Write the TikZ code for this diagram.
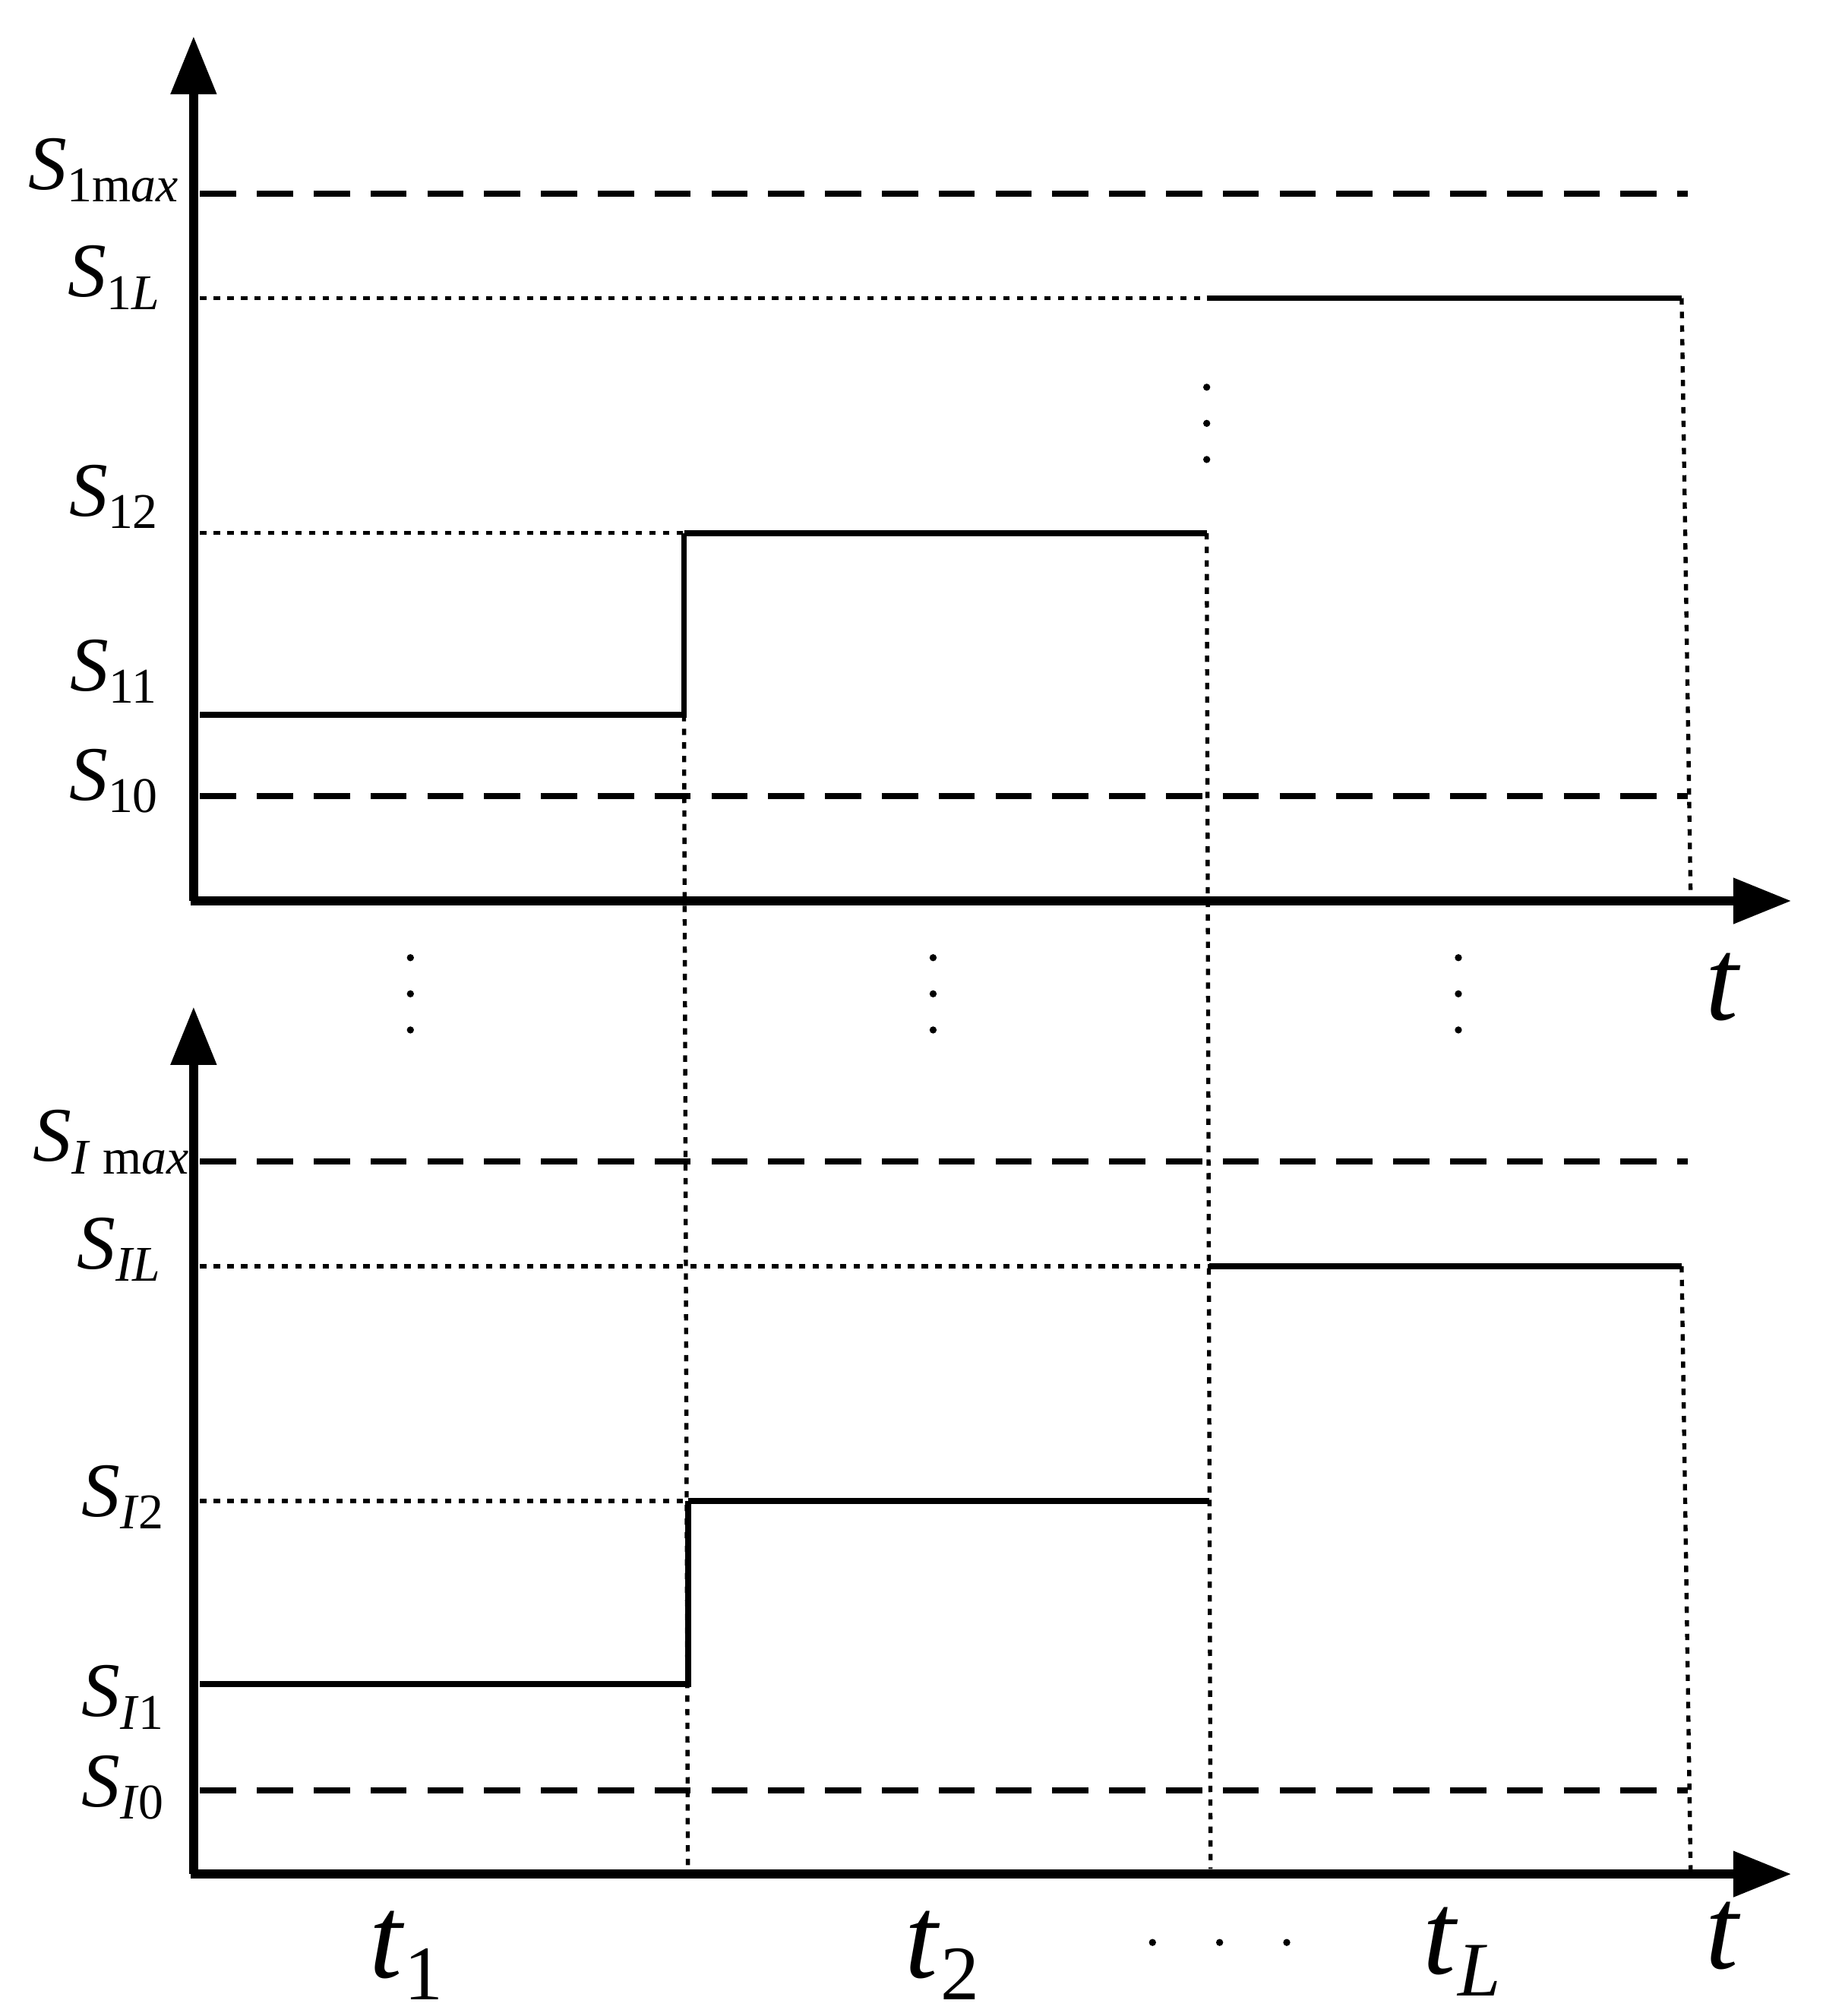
\documentclass[tikz,border=0pt]{standalone}
\usepackage{fontspec}
\setmainfont{Liberation Serif}
\usetikzlibrary{arrows.meta}
\newcommand{\mysb}[1]{\raisebox{-0.35ex}{\fontsize{11}{12}\selectfont #1}}
\newcommand{\mytsb}[1]{\raisebox{-0.4ex}{\fontsize{17}{18}\selectfont #1}}
\begin{document}
\begin{tikzpicture}[x=0.01cm,y=-0.01cm,
 ax/.style={line width=2pt,-{Triangle[length=0.45cm,width=0.34cm]}},
 dsh/.style={line width=1.3pt,dash pattern=on 0.28cm off 0.16cm},
 dot/.style={line width=0.9pt,dash pattern=on 1.4pt off 1.6pt},
 sol/.style={line width=1.3pt},
 lab/.style={font=\fontsize{17}{20}\selectfont,anchor=center,inner sep=0pt},
 tl/.style={font=\fontsize{26}{30}\selectfont,inner sep=0pt},
 vd/.style={fill=black,circle,inner sep=0pt,minimum size=0.055cm}]
\useasboundingbox (0,0) rectangle (1412,1562);
% top panel
\draw[ax] (150,698) -- (150,28);
\draw[ax] (148,698) -- (1388,698);
\draw[dsh] (155,150) -- (1308,150);
\draw[dot] (155,231) -- (935,231);
\draw[sol] (935,231) -- (1303,231);
\draw[dot] (1303,231) -- (1310,698);
\foreach \y in {300,328,356} \node[vd] at (935,\y) {};
\draw[dot] (155,413) -- (530,413);
\draw[sol] (530,413) -- (935,413);
\draw[sol] (155,554) -- (530,554) -- (530,413);
\draw[dot] (530,554) -- (533,1448);
\draw[dot] (935,413) -- (938,1448);
\draw[dsh] (155,617) -- (1308,617);
\node[lab] at (80,132) {\textit{S}\mysb{1m\textit{ax}}};
\node[lab] at (88,215) {\textit{S}\mysb{1\textit{L}}};
\node[lab] at (88,385) {\textit{S}\mysb{12}};
\node[lab] at (88,520) {\textit{S}\mysb{11}};
\node[lab] at (88,605) {\textit{S}\mysb{10}};
% middle dots
\foreach \x in {318,723,1130} \foreach \y in {742,770,798} \node[vd] at (\x,\y) {};
\node[tl] at (1335,765) {\textit{t}};
% bottom panel
\draw[ax] (150,1452) -- (150,780);
\draw[ax] (148,1452) -- (1388,1452);
\draw[dsh] (155,900) -- (1308,900);
\draw[dot] (155,981) -- (937,981);
\draw[sol] (937,981) -- (1303,981);
\draw[dot] (1303,981) -- (1310,1452);
\draw[dot] (155,1163) -- (533,1163);
\draw[sol] (533,1163) -- (937,1163);
\draw[sol] (155,1305) -- (533,1305) -- (533,1163);
\draw[dsh] (155,1387) -- (1308,1387);
\node[lab] at (86,885) {\textit{S}\mysb{\textit{I} m\textit{ax}}};
\node[lab] at (92,968) {\textit{S}\mysb{\textit{IL}}};
\node[lab] at (95,1160) {\textit{S}\mysb{\textit{I}2}};
\node[lab] at (95,1315) {\textit{S}\mysb{\textit{I}1}};
\node[lab] at (95,1385) {\textit{S}\mysb{\textit{I}0}};
\node[tl] at (315,1515) {\textit{t}\mytsb{1}};
\node[tl] at (730,1515) {\textit{t}\mytsb{2}};
\foreach \x in {893,945,997} \node[vd] at (\x,1505) {};
\node[tl] at (1133,1512) {\textit{t}\mytsb{\textit{L}}};
\node[tl] at (1335,1500) {\textit{t}};
\end{tikzpicture}
\end{document}
